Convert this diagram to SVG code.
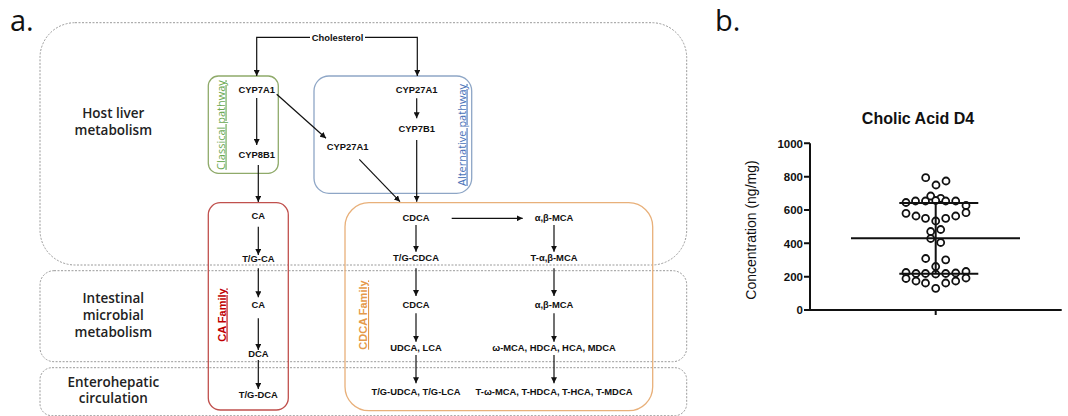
<svg xmlns="http://www.w3.org/2000/svg" width="1068" height="416" viewBox="0 0 1068 416">
<style>
.region{fill:none;stroke:#9a9a9a;stroke-width:1;stroke-dasharray:2 1.5}
.rl{font-family:"Open Sans","Liberation Sans",sans-serif;font-weight:600;font-size:13.5px;fill:#222;text-anchor:middle}
.t{font-family:"Liberation Sans",Arial,sans-serif;font-weight:bold;font-size:9.4px;fill:#111;text-anchor:middle}
.ln{fill:none;stroke:#111;stroke-width:1.2}
.pl{font-family:"Open Sans","Liberation Sans",sans-serif;font-size:11px;text-anchor:middle;text-decoration:underline}
.fam{font-family:"Liberation Sans",Arial,sans-serif;font-weight:bold;font-size:11px;text-anchor:middle;text-decoration:underline}
.ax{fill:none;stroke:#111;stroke-width:2}
.tk{font-family:"Liberation Sans",Arial,sans-serif;font-weight:bold;font-size:11.5px;fill:#111;text-anchor:end}
.pt{fill:#fff;stroke:#111;stroke-width:1.8}
.big{font-family:"Open Sans","Liberation Sans",sans-serif;font-size:29px;fill:#111}
</style>
<defs>
<marker id="ah" markerUnits="userSpaceOnUse" markerWidth="7" markerHeight="6" refX="6" refY="3" orient="auto">
<path d="M0,0 L6,3 L0,6 z" fill="#111"/>
</marker>
</defs>

<text class="big" x="10" y="31">a.</text>
<text class="big" x="715" y="31">b.</text>

<g id="regions">
<rect id="host-liver" class="region" x="40" y="22.7" width="646.7" height="242.3" rx="35"/>
<rect id="intestinal" class="region" x="40" y="270.7" width="646.7" height="91" rx="14"/>
<rect id="enterohepatic" class="region" x="40" y="367.7" width="646.7" height="48" rx="12"/>
<text class="rl" x="113.3" y="118.3">Host liver</text>
<text class="rl" x="113.3" y="135">metabolism</text>
<text class="rl" x="113.3" y="303.3">Intestinal</text>
<text class="rl" x="113.3" y="320">microbial</text>
<text class="rl" x="113.3" y="336.7">metabolism</text>
<text class="rl" x="113.3" y="386.7">Enterohepatic</text>
<text class="rl" x="113.3" y="403.3">circulation</text>
</g>

<g id="classical">
<rect x="208.3" y="76" width="70" height="97.3" rx="10" fill="none" stroke="#8faa6a" stroke-width="1.3"/>
<text class="pl" fill="#6aa84f" transform="translate(224.5,125) rotate(-90)">Classical pathway</text>
</g>
<g id="alternative">
<rect x="314" y="76" width="157.7" height="117.3" rx="15" fill="none" stroke="#8ea6c6" stroke-width="1.3"/>
<text class="pl" fill="#4a72b8" transform="translate(465.5,135) rotate(-90)">Alternative pathway</text>
</g>
<g id="ca-family">
<rect x="208.3" y="202.7" width="80" height="207.3" rx="12" fill="none" stroke="#c0504d" stroke-width="1.3"/>
<text class="fam" fill="#c00000" transform="translate(225.5,315) rotate(-90)">CA Family</text>
</g>
<g id="cdca-family">
<rect x="345" y="202.7" width="307.7" height="208" rx="24" fill="none" stroke="#e8b07a" stroke-width="1.3"/>
<text class="fam" fill="#e59a4a" transform="translate(367,315) rotate(-90)">CDCA Family</text>
</g>

<g id="connectors">
<path class="ln" d="M310,37.3 H256.7 V76" marker-end="url(#ah)"/>
<path class="ln" d="M365,37.3 H417.3 V76" marker-end="url(#ah)"/>
<path class="ln" d="M256.7,98 V145" marker-end="url(#ah)"/>
<path class="ln" d="M276.7,94.3 L326,138.3" marker-end="url(#ah)"/>
<path class="ln" d="M416.7,98.3 V118.3" marker-end="url(#ah)"/>
<path class="ln" d="M359.3,159.3 L400,201.7" marker-end="url(#ah)"/>
<path class="ln" d="M416.7,140 V201.7" marker-end="url(#ah)"/>
<path class="ln" d="M258.3,165 V202" marker-end="url(#ah)"/>
<path class="ln" d="M258.3,226.7 V255" marker-end="url(#ah)"/>
<path class="ln" d="M258.3,268.3 V297.3" marker-end="url(#ah)"/>
<path class="ln" d="M258.3,318.3 V350" marker-end="url(#ah)"/>
<path class="ln" d="M258.3,360 V389" marker-end="url(#ah)"/>
<path class="ln" d="M451.7,218.3 H522.7" marker-end="url(#ah)"/>
<path class="ln" d="M416,225 V251.7" marker-end="url(#ah)"/>
<path class="ln" d="M416,268.3 V296" marker-end="url(#ah)"/>
<path class="ln" d="M416,313.3 V341.7" marker-end="url(#ah)"/>
<path class="ln" d="M416,355 V383.3" marker-end="url(#ah)"/>
<path class="ln" d="M554,225 V251.7" marker-end="url(#ah)"/>
<path class="ln" d="M554,268.3 V296" marker-end="url(#ah)"/>
<path class="ln" d="M554,313.3 V341.7" marker-end="url(#ah)"/>
<path class="ln" d="M554,355 V383.3" marker-end="url(#ah)"/>
</g>

<g id="n-cholesterol"><text class="t" x="337.5" y="40.5">Cholesterol</text></g>
<g id="n-cyp7a1"><text class="t" x="256.7" y="92.7">CYP7A1</text></g>
<g id="n-cyp8b1"><text class="t" x="256.7" y="158.3">CYP8B1</text></g>
<g id="n-cyp27a1-mid"><text class="t" x="347.7" y="150">CYP27A1</text></g>
<g id="n-cyp27a1-alt"><text class="t" x="416.7" y="92.7">CYP27A1</text></g>
<g id="n-cyp7b1"><text class="t" x="416.7" y="131.7">CYP7B1</text></g>
<g id="n-ca1"><text class="t" x="258.3" y="219.3">CA</text></g>
<g id="n-tgca"><text class="t" x="258.3" y="261.7">T/G-CA</text></g>
<g id="n-ca2"><text class="t" x="258.3" y="308.3">CA</text></g>
<g id="n-dca"><text class="t" x="258.3" y="356.7">DCA</text></g>
<g id="n-tgdca"><text class="t" x="258.3" y="398.3">T/G-DCA</text></g>
<g id="n-cdca1"><text class="t" x="416" y="221">CDCA</text></g>
<g id="n-tgcdca"><text class="t" x="416" y="260.7">T/G-CDCA</text></g>
<g id="n-cdca2"><text class="t" x="416" y="308.3">CDCA</text></g>
<g id="n-udca"><text class="t" x="416" y="350.7">UDCA, LCA</text></g>
<g id="n-tgudca"><text class="t" x="416" y="395">T/G-UDCA, T/G-LCA</text></g>
<g id="n-mca1"><text class="t" x="554" y="221">α,β-MCA</text></g>
<g id="n-tmca"><text class="t" x="554" y="260.7">T-α,β-MCA</text></g>
<g id="n-mca2"><text class="t" x="554" y="308.3">α,β-MCA</text></g>
<g id="n-wmca"><text class="t" x="554" y="350.7">ω-MCA, HDCA, HCA, MDCA</text></g>
<g id="n-twmca"><text class="t" x="554" y="395">T-ω-MCA, T-HDCA, T-HCA, T-MDCA</text></g>

<g id="chart">
<text x="918" y="124" font-family="Liberation Sans,Arial,sans-serif" font-weight="bold" font-size="16" fill="#111" text-anchor="middle">Cholic Acid D4</text>
<text transform="translate(756,230) rotate(-90)" font-family="Liberation Sans,Arial,sans-serif" font-size="14" fill="#111" text-anchor="middle">Concentration (ng/mg)</text>
<path class="ax" d="M810,143.3 V310 H1061.7 M804,143.3 H810 M804,176.7 H810 M804,210 H810 M804,243.3 H810 M804,276.7 H810 M804,310 H810 M935.7,310 V315"/>
<text class="tk" x="803" y="147.5">1000</text>
<text class="tk" x="803" y="180.9">800</text>
<text class="tk" x="803" y="214.2">600</text>
<text class="tk" x="803" y="247.5">400</text>
<text class="tk" x="803" y="280.9">200</text>
<text class="tk" x="803" y="314.2">0</text>
<g>
<circle class="pt" cx="925.7" cy="177.7" r="3.5"/>
<circle class="pt" cx="946" cy="181" r="3.5"/>
<circle class="pt" cx="936" cy="185" r="3.5"/>
<circle class="pt" cx="930.7" cy="196" r="3.5"/>
<circle class="pt" cx="940.7" cy="198.3" r="3.5"/>
<circle class="pt" cx="906" cy="202.5" r="3.5"/>
<circle class="pt" cx="915.5" cy="201" r="3.5"/>
<circle class="pt" cx="925.5" cy="201" r="3.5"/>
<circle class="pt" cx="935.7" cy="200.5" r="3.5"/>
<circle class="pt" cx="945.7" cy="201" r="3.5"/>
<circle class="pt" cx="955.7" cy="201" r="3.5"/>
<circle class="pt" cx="966" cy="205.5" r="3.5"/>
<circle class="pt" cx="906" cy="213.3" r="3.5"/>
<circle class="pt" cx="916" cy="216" r="3.5"/>
<circle class="pt" cx="925.5" cy="218.3" r="3.5"/>
<circle class="pt" cx="935.7" cy="221" r="3.5"/>
<circle class="pt" cx="945.7" cy="218.3" r="3.5"/>
<circle class="pt" cx="955.7" cy="216" r="3.5"/>
<circle class="pt" cx="966" cy="212.7" r="3.5"/>
<circle class="pt" cx="930.7" cy="231.5" r="3.5"/>
<circle class="pt" cx="940.7" cy="229.5" r="3.5"/>
<circle class="pt" cx="930.7" cy="238.5" r="3.5"/>
<circle class="pt" cx="940.7" cy="242.5" r="3.5"/>
<circle class="pt" cx="925.7" cy="258.5" r="3.5"/>
<circle class="pt" cx="945.7" cy="259.8" r="3.5"/>
<circle class="pt" cx="935.7" cy="266.5" r="3.5"/>
<circle class="pt" cx="906" cy="272.5" r="3.5"/>
<circle class="pt" cx="916" cy="273.5" r="3.5"/>
<circle class="pt" cx="925.5" cy="273.5" r="3.5"/>
<circle class="pt" cx="935.7" cy="274" r="3.5"/>
<circle class="pt" cx="945.7" cy="273.5" r="3.5"/>
<circle class="pt" cx="955.7" cy="273" r="3.5"/>
<circle class="pt" cx="966" cy="271.5" r="3.5"/>
<circle class="pt" cx="906" cy="278.5" r="3.5"/>
<circle class="pt" cx="916" cy="281" r="3.5"/>
<circle class="pt" cx="925.5" cy="283" r="3.5"/>
<circle class="pt" cx="945.7" cy="283" r="3.5"/>
<circle class="pt" cx="955.7" cy="281" r="3.5"/>
<circle class="pt" cx="966" cy="278" r="3.5"/>
<circle class="pt" cx="935.7" cy="288.3" r="3.5"/>
</g>
<path class="ax" d="M851,238.3 H1020 M899.3,203 H978.3 M899.3,273.7 H978.3 M935.7,203 V273.7"/>
</g>
</svg>
